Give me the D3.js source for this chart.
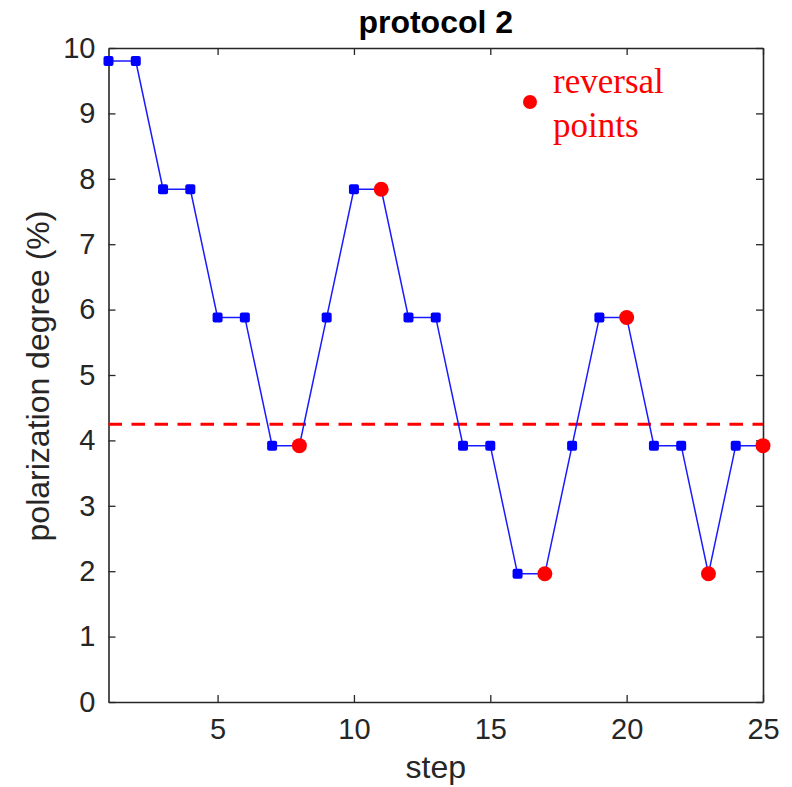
<!DOCTYPE html>
<html>
<head>
<meta charset="utf-8">
<script src="https://cdn.jsdelivr.net/npm/d3@7"></script>
<style>
  html, body { margin: 0; padding: 0; background: #fff; }
  svg { display: block; }
</style>
</head>
<body>
<svg id="chart" width="792" height="787"></svg>
<script>
// Staircase record: polarization degree at each step
const steps = d3.range(1, 26);
const degree = [9.8, 9.8, 7.84, 7.84, 5.88, 5.88, 3.92, 3.92, 5.88, 7.84,
                7.84, 5.88, 5.88, 3.92, 3.92, 1.96, 1.96, 3.92, 5.88, 5.88,
                3.92, 3.92, 1.96, 3.92, 3.92];
// Steps where the staircase changed direction
const reversalSteps = [8, 11, 17, 20, 23, 25];
const xTicks = [5, 10, 15, 20, 25];
const yTicks = d3.range(0, 11);

const title = "protocol 2";
const xLabel = "step";
const yLabel = "polarization degree (%)";
const legendLines = ["reversal", "points"];

const svg = d3.select("#chart");
const m = { left: 108.5, right: 763, top: 48, bottom: 702 };

const x = d3.scaleLinear().domain([1, 25]).range([m.left, m.right]);
const y = d3.scaleLinear().domain([0, 10]).range([m.bottom, m.top]);

const data = steps.map((s, i) => ({ step: s, value: degree[i] }));
const reversals = data.filter(d => reversalSteps.includes(d.step));
const threshold = d3.mean(reversals, d => d.value);

const axisColor = "#262626";
const sansFont = "Liberation Sans, Arial, sans-serif";

// Axes with inward ticks on all four sides
const tickLen = 7;
const gx = svg.append("g").attr("transform", `translate(0,${m.bottom})`)
  .call(d3.axisBottom(x).tickValues(xTicks).tickSizeInner(-tickLen).tickSizeOuter(0).tickPadding(16));
const gxTop = svg.append("g").attr("transform", `translate(0,${m.top})`)
  .call(d3.axisTop(x).tickValues(xTicks).tickSizeInner(-tickLen).tickSizeOuter(0).tickFormat(""));
const gy = svg.append("g").attr("transform", `translate(${m.left},0)`)
  .call(d3.axisLeft(y).tickValues(yTicks).tickSizeInner(-tickLen).tickSizeOuter(0).tickPadding(13));
const gyRight = svg.append("g").attr("transform", `translate(${m.right},0)`)
  .call(d3.axisRight(y).tickValues(yTicks).tickSizeInner(-tickLen).tickSizeOuter(0).tickFormat(""));

[gx, gxTop, gy, gyRight].forEach(g => {
  g.select(".domain").attr("stroke", axisColor).attr("stroke-width", 1.6);
  g.selectAll(".tick line").attr("stroke", axisColor).attr("stroke-width", 1.3);
  g.selectAll(".tick text").attr("fill", axisColor)
    .attr("font-family", sansFont).attr("font-size", 29);
});
gx.selectAll(".tick text").attr("dy", "0.71em");

// Threshold (mean of reversal values)
svg.append("line")
  .attr("x1", x(1)).attr("x2", x(25))
  .attr("y1", y(threshold)).attr("y2", y(threshold))
  .attr("stroke", "#ff0000").attr("stroke-width", 3)
  .attr("stroke-dasharray", "13.5 9.5");

// Staircase line
svg.append("path")
  .datum(data)
  .attr("fill", "none")
  .attr("stroke", "#1a1aff")
  .attr("stroke-width", 1.5)
  .attr("d", d3.line().x(d => x(d.step)).y(d => y(d.value)));

// Square markers
const sq = 10;
svg.append("g").selectAll("rect")
  .data(data)
  .join("rect")
  .attr("x", d => x(d.step) - sq / 2)
  .attr("y", d => y(d.value) - sq / 2)
  .attr("width", sq).attr("height", sq)
  .attr("rx", 2)
  .attr("fill", "#0000ff");

// Reversal markers
svg.append("g").selectAll("circle")
  .data(reversals)
  .join("circle")
  .attr("cx", d => x(d.step))
  .attr("cy", d => y(d.value))
  .attr("r", 7.5)
  .attr("fill", "#ff0000");

// Legend
svg.append("circle").attr("cx", 530).attr("cy", 102).attr("r", 7).attr("fill", "#ff0000");
svg.append("text")
  .attr("x", 553).attr("y", 93)
  .attr("font-family", "Liberation Serif, Times New Roman, serif")
  .attr("font-size", 35)
  .attr("fill", "#ff0000")
  .selectAll("tspan")
  .data(legendLines)
  .join("tspan")
  .attr("x", 553)
  .attr("dy", (d, i) => i === 0 ? 0 : 44)
  .text(d => d);

// Title and axis labels
svg.append("text")
  .attr("x", (m.left + m.right) / 2).attr("y", 33)
  .attr("text-anchor", "middle")
  .attr("font-family", sansFont).attr("font-weight", "bold").attr("font-size", 32)
  .attr("fill", "#000").text(title);

svg.append("text")
  .attr("x", (m.left + m.right) / 2).attr("y", 778)
  .attr("text-anchor", "middle")
  .attr("font-family", sansFont).attr("font-size", 32)
  .attr("fill", axisColor).text(xLabel);

svg.append("text")
  .attr("transform", `translate(49,${(m.top + m.bottom) / 2 + 1}) rotate(-90)`)
  .attr("text-anchor", "middle")
  .attr("font-family", sansFont).attr("font-size", 32)
  .attr("fill", axisColor).text(yLabel);
</script>
</body>
</html>
